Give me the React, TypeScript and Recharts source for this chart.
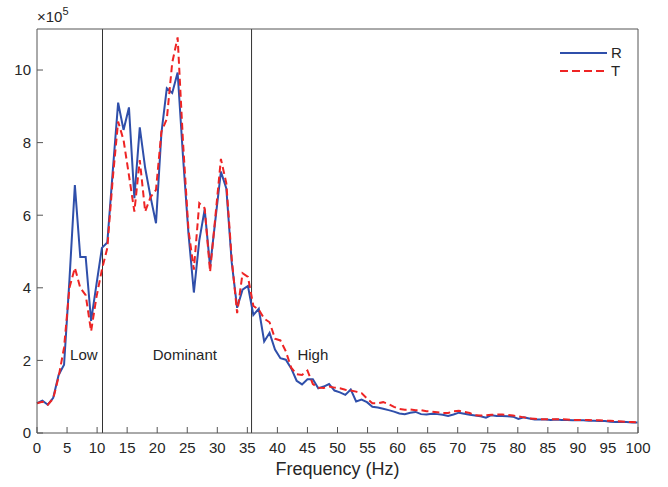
import {
  LineChart,
  Line,
  XAxis,
  YAxis,
  ReferenceLine,
  ReferenceDot,
  Legend,
  Customized,
} from 'recharts'

// spectrum sampled every 0.9 Hz, values in units of 1e5
const FREQ_STEP = 0.9

const rValues = [
  0.82, 0.89, 0.78, 0.97, 1.6, 1.88, 4.22, 6.83, 4.85, 4.85,
  3.09, 4.1, 5.1, 5.25, 7.2, 9.1, 8.35, 8.97, 6.47, 8.42,
  7.3, 6.5, 5.78, 8.26, 9.5, 9.37, 9.93, 7.6, 5.5, 3.87,
  5.3, 6.16, 4.58, 5.9, 7.2, 6.74, 4.7, 3.45, 3.95, 4.05,
  3.25, 3.42, 2.52, 2.76, 2.3, 2.06, 2.02, 1.78, 1.44, 1.34,
  1.48, 1.48, 1.23, 1.28, 1.35, 1.17, 1.12, 1.05, 1.2, 0.87,
  0.92, 0.85, 0.72, 0.7, 0.67, 0.63, 0.59, 0.54, 0.52, 0.56,
  0.58, 0.52, 0.51, 0.53, 0.52, 0.5, 0.47, 0.51, 0.56, 0.53,
  0.5, 0.48, 0.46, 0.42, 0.49, 0.47, 0.47, 0.46, 0.45, 0.39,
  0.43, 0.4, 0.37, 0.37, 0.37, 0.36, 0.37, 0.36, 0.36, 0.35,
  0.35, 0.35, 0.34, 0.34, 0.33, 0.33, 0.31, 0.3, 0.31, 0.3,
  0.29, 0.29,
]

const tValues = [
  0.82, 0.86, 0.78, 0.95, 1.55, 2.35, 4.0, 4.55, 4.0, 3.8,
  2.8, 3.75, 4.5, 5.1, 7.0, 8.58, 8.07, 7.1, 6.1, 7.52,
  6.1, 6.5, 6.7, 8.3, 8.65, 10.2, 10.9, 8.0, 5.6, 4.5,
  6.33, 6.19, 4.44, 6.0, 7.55, 6.88, 4.8, 3.3, 4.4, 4.3,
  3.5, 3.4, 3.15, 3.05, 2.6, 2.55, 2.25, 1.8, 1.62, 1.6,
  1.72, 1.35, 1.25, 1.24, 1.28, 1.25, 1.23, 1.19, 1.17, 1.14,
  1.1, 0.95, 0.82, 0.82, 0.85, 0.8, 0.72, 0.66, 0.64, 0.65,
  0.63, 0.63, 0.6, 0.59, 0.57, 0.55, 0.55, 0.6, 0.61, 0.58,
  0.55, 0.49, 0.48, 0.49, 0.5, 0.51, 0.51, 0.5, 0.48, 0.46,
  0.43, 0.4, 0.39, 0.38, 0.38, 0.38, 0.38, 0.38, 0.37, 0.36,
  0.36, 0.36, 0.36, 0.35, 0.35, 0.34, 0.34, 0.33, 0.32, 0.31,
  0.3, 0.29,
]

const xTicks = [0, 5, 10, 15, 20, 25, 30, 35, 40, 45, 50, 55, 60, 65, 70, 75, 80, 85, 90, 95, 100]
const yTicks = [0, 2, 4, 6, 8, 10]
const bandEdges = [10.9, 35.7]
const bandNames = ['Low', 'Dominant', 'High']
const bandLabelX = [7.8, 24.6, 45.9]
const bandLabelY = 2.15

const data = rValues.map((r, i) => ({
  f: Math.round(i * FREQ_STEP * 100) / 100,
  R: r,
  T: tValues[i],
}))

const AXIS = '#555'
const TEXT = '#262626'
const BLUE = '#2F4FAA'
const RED = '#EE2424'
const FONT = '"Liberation Sans", Arial, sans-serif'

function LegendBox() {
  return (
    <svg width={80} height={44} style={{ fontFamily: FONT }}>
      <line x1={5} y1={11} x2={52} y2={11} stroke={BLUE} strokeWidth={2} />
      <text x={56} y={16} fontSize={15} fill={TEXT}>R</text>
      <line x1={5} y1={29} x2={50} y2={29} stroke={RED} strokeWidth={2} strokeDasharray="8 4" />
      <text x={56} y={34} fontSize={15} fill={TEXT}>T</text>
    </svg>
  )
}

function Exponent() {
  return (
    <text x={37} y={22} fontSize={15} fill={TEXT} fontFamily={FONT}>
      ×10<tspan dy={-7} fontSize={11}>5</tspan>
    </text>
  )
}

export default function App() {
  return (
    <div style={{ position: 'absolute', left: 0, top: 0, background: '#fff' }}>
      <LineChart
        width={668}
        height={487}
        data={data}
        margin={{ top: 28, right: 29, bottom: 24, left: 7 }}
        style={{ fontFamily: FONT }}
      >
        <XAxis
          dataKey="f"
          type="number"
          domain={[0, 100]}
          ticks={xTicks}
          height={30}
          tickSize={-6}
          tickMargin={15}
          stroke={AXIS}
          tick={{ fontSize: 15, fill: TEXT }}
          interval={0}
          label={{ value: 'Frequency (Hz)', position: 'bottom', offset: -1, fontSize: 18, fill: TEXT }}
        />
        <XAxis
          xAxisId="top"
          orientation="top"
          dataKey="f"
          type="number"
          domain={[0, 100]}
          ticks={xTicks}
          height={1}
          tickSize={-6}
          stroke={AXIS}
          tick={false}
          interval={0}
        />
        <YAxis
          type="number"
          domain={[0, 11.13]}
          ticks={yTicks}
          width={30}
          tickSize={-6}
          tickMargin={12}
          stroke={AXIS}
          tick={{ fontSize: 15, fill: TEXT }}
          interval={0}
        />
        <YAxis
          yAxisId="right"
          orientation="right"
          type="number"
          domain={[0, 11.13]}
          ticks={yTicks}
          width={1}
          tickSize={-6}
          stroke={AXIS}
          tick={false}
          interval={0}
        />
        {bandEdges.map((x) => (
          <ReferenceLine key={x} x={x} stroke="#333" strokeWidth={1} />
        ))}
        {bandNames.map((name, i) => (
          <ReferenceDot
            key={name}
            x={bandLabelX[i]}
            y={bandLabelY}
            r={0}
            fill="none"
            stroke="none"
            label={{ value: name, position: 'center', fontSize: 15, fill: TEXT }}
          />
        ))}
        <Line
          type="linear"
          dataKey="R"
          stroke={BLUE}
          strokeWidth={2}
          dot={false}
          isAnimationActive={false}
        />
        <Line
          type="linear"
          dataKey="T"
          stroke={RED}
          strokeWidth={2}
          strokeDasharray="7 4"
          dot={false}
          isAnimationActive={false}
        />
        <Legend
          layout="vertical"
          align="center"
          verticalAlign="middle"
          content={() => <LegendBox />}
          wrapperStyle={{ left: 555, top: 42, width: 80, height: 44 }}
        />
        <Customized component={<Exponent />} />
      </LineChart>
    </div>
  )
}
